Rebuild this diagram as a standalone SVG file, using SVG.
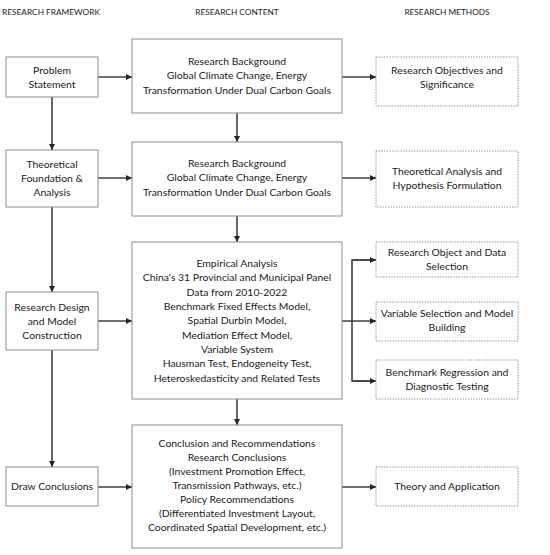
<svg xmlns="http://www.w3.org/2000/svg" width="550" height="555" viewBox="0 0 550 555">
<style>
.bx{fill:#fff;stroke:#8c8c8c;stroke-width:1}
.dbx{fill:#fff;stroke:#8c8c8c;stroke-width:0.9;stroke-dasharray:1.5 1.2}
.t{font-family:Lato,"Liberation Sans",sans-serif;font-size:10.4px;fill:#1a1a1a;text-anchor:middle}
.h{font-family:Lato,"Liberation Sans",sans-serif;font-size:8.3px;fill:#1a1a1a;text-anchor:middle}
.c{fill:none;stroke:#404040;stroke-width:1.6}
</style>
<defs>
<marker id="ah" viewBox="0 0 10 10" refX="10" refY="5" markerWidth="4" markerHeight="4" orient="auto" markerUnits="strokeWidth">
<path d="M0,0 L10,5 L0,10 z" fill="#262626"/>
</marker>
</defs>
<rect width="550" height="555" fill="#fff"/>
<g id="headers">
<text class="h" x="51" y="15">RESEARCH FRAMEWORK</text>
<text class="h" x="237" y="15">RESEARCH CONTENT</text>
<text class="h" x="447" y="15">RESEARCH METHODS</text>
</g>
<g id="connectors">
<line class="c" x1="98" y1="77" x2="132" y2="77" marker-end="url(#ah)"/>
<line class="c" x1="342" y1="77" x2="376" y2="77" marker-end="url(#ah)"/>
<line class="c" x1="237" y1="113" x2="237" y2="142" marker-end="url(#ah)"/>
<line class="c" x1="52" y1="97" x2="52" y2="150" marker-end="url(#ah)"/>
<line class="c" x1="98" y1="178" x2="132" y2="178" marker-end="url(#ah)"/>
<line class="c" x1="342" y1="178" x2="376" y2="178" marker-end="url(#ah)"/>
<line class="c" x1="237" y1="216" x2="237" y2="242" marker-end="url(#ah)"/>
<line class="c" x1="52" y1="207" x2="52" y2="292" marker-end="url(#ah)"/>
<line class="c" x1="98" y1="321" x2="132" y2="321" marker-end="url(#ah)"/>
<line class="c" x1="342" y1="321" x2="376" y2="321" marker-end="url(#ah)"/>
<polyline class="c" points="376,260 352,260 352,381 376,381"/>
<line class="c" x1="352" y1="260" x2="376" y2="260" marker-end="url(#ah)"/>
<line class="c" x1="352" y1="381" x2="376" y2="381" marker-end="url(#ah)"/>
<line class="c" x1="237" y1="399" x2="237" y2="425" marker-end="url(#ah)"/>
<line class="c" x1="52" y1="350" x2="52" y2="467" marker-end="url(#ah)"/>
<line class="c" x1="98" y1="487" x2="132" y2="487" marker-end="url(#ah)"/>
<line class="c" x1="342" y1="487" x2="376" y2="487" marker-end="url(#ah)"/>
</g>
<g id="problem-statement">
<rect class="bx" x="6" y="57" width="92" height="40"/>
<text class="t" x="52" y="74">Problem</text>
<text class="t" x="52" y="88">Statement</text>
</g>
<g id="theoretical-foundation">
<rect class="bx" x="6" y="150" width="92" height="57"/>
<text class="t" x="52" y="168">Theoretical</text>
<text class="t" x="52" y="182">Foundation &amp;</text>
<text class="t" x="52" y="196">Analysis</text>
</g>
<g id="research-design">
<rect class="bx" x="6" y="292" width="92" height="58"/>
<text class="t" x="52" y="311">Research Design</text>
<text class="t" x="52" y="325">and Model</text>
<text class="t" x="52" y="339">Construction</text>
</g>
<g id="draw-conclusions">
<rect class="bx" x="6" y="467" width="92" height="39"/>
<text class="t" x="52" y="490">Draw Conclusions</text>
</g>
<g id="content-1">
<rect class="bx" x="132" y="39" width="210" height="74"/>
<text class="t" x="237" y="65">Research Background</text>
<text class="t" x="237" y="79">Global Climate Change, Energy</text>
<text class="t" x="237" y="94">Transformation Under Dual Carbon Goals</text>
</g>
<g id="content-2">
<rect class="bx" x="132" y="142" width="210" height="74"/>
<text class="t" x="237" y="167">Research Background</text>
<text class="t" x="237" y="181">Global Climate Change, Energy</text>
<text class="t" x="237" y="196">Transformation Under Dual Carbon Goals</text>
</g>
<g id="content-3">
<rect class="bx" x="132" y="242" width="210" height="157"/>
<text class="t" x="237" y="267">Empirical Analysis</text>
<text class="t" x="237" y="281">China's 31 Provincial and Municipal Panel</text>
<text class="t" x="237" y="296">Data from 2010-2022</text>
<text class="t" x="237" y="310">Benchmark Fixed Effects Model,</text>
<text class="t" x="237" y="324">Spatial Durbin Model,</text>
<text class="t" x="237" y="339">Mediation Effect Model,</text>
<text class="t" x="237" y="353">Variable System</text>
<text class="t" x="237" y="367">Hausman Test, Endogeneity Test,</text>
<text class="t" x="237" y="382">Heteroskedasticity and Related Tests</text>
</g>
<g id="content-4">
<rect class="bx" x="132" y="425" width="210" height="123"/>
<text class="t" x="237" y="447">Conclusion and Recommendations</text>
<text class="t" x="237" y="461">Research Conclusions</text>
<text class="t" x="237" y="475">(Investment Promotion Effect,</text>
<text class="t" x="237" y="489">Transmission Pathways, etc.)</text>
<text class="t" x="237" y="503">Policy Recommendations</text>
<text class="t" x="237" y="517">(Differentiated Investment Layout,</text>
<text class="t" x="237" y="531">Coordinated Spatial Development, etc.)</text>
</g>
<g id="method-1">
<rect class="dbx" x="376" y="57" width="142" height="49"/>
<text class="t" x="447" y="74">Research Objectives and</text>
<text class="t" x="447" y="88">Significance</text>
</g>
<g id="method-2">
<rect class="dbx" x="376" y="151" width="142" height="56"/>
<text class="t" x="447" y="175">Theoretical Analysis and</text>
<text class="t" x="447" y="189">Hypothesis Formulation</text>
</g>
<g id="method-3">
<rect class="dbx" x="376" y="242" width="142" height="35"/>
<text class="t" x="447" y="256">Research Object and Data</text>
<text class="t" x="447" y="270">Selection</text>
</g>
<g id="method-4">
<rect class="dbx" x="376" y="302" width="142" height="39"/>
<text class="t" x="447" y="317">Variable Selection and Model</text>
<text class="t" x="447" y="331">Building</text>
</g>
<g id="method-5">
<rect class="dbx" x="376" y="360" width="142" height="39"/>
<text class="t" x="447" y="376">Benchmark Regression and</text>
<text class="t" x="447" y="390">Diagnostic Testing</text>
</g>
<g id="method-6">
<rect class="dbx" x="376" y="467" width="142" height="39"/>
<text class="t" x="447" y="490">Theory and Application</text>
</g>
</svg>
